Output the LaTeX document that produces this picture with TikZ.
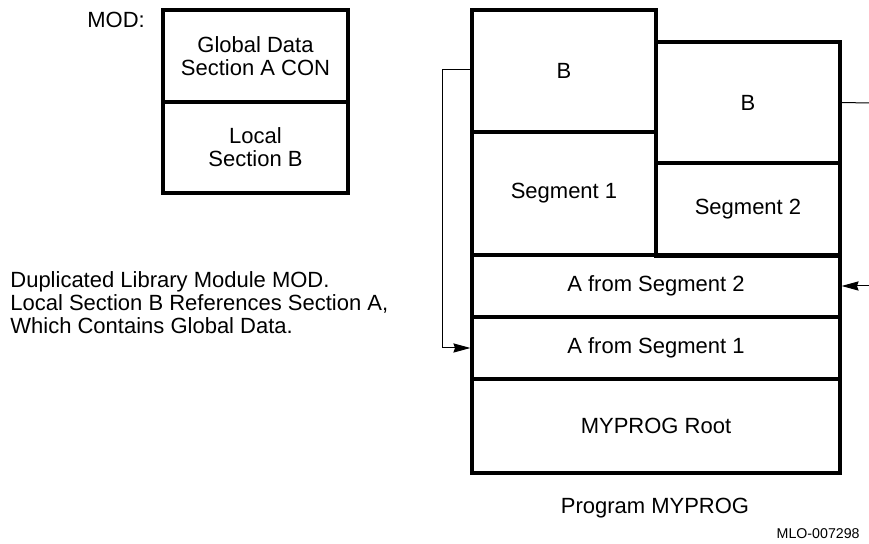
\documentclass[tikz,border=0pt]{standalone}
\usepackage{fontspec}
\setmainfont{Liberation Sans}
\usetikzlibrary{arrows.meta}
\tikzset{
  blok/.style={draw, line width=1.6pt, inner sep=0pt, align=center,
    minimum width=#1*0.5pt},
  lien/.style={line width=0.5pt, -{Stealth[length=8.5pt,width=4.6pt,inset=0.8pt]}},
}
\begin{document}
\begin{tikzpicture}[x=0.5pt, y=-0.5pt, font=\fontsize{11}{11.5}\selectfont]
					\useasboundingbox (0,0) rectangle (869,544);
					% module MOD
					\node[anchor=west, inner sep=0pt] (mod) at (87,20) {MOD:};
					\node[blok=185, minimum height=46pt] (gd) at (255.5,56) {Global Data\\Section A CON};
					\node[blok=185, minimum height=45.5pt] (lb) at (255.5,147.5) {Local\\Section B};
					\node[anchor=west, align=left, inner sep=0pt] (txt) at (10,303) {Duplicated Library Module MOD.\\Local Section B References Section A,\\Which Contains Global Data.};
					% programme MYPROG
					\node[blok=184, minimum height=61pt] (b1) at (564,71) {B};
					\node[blok=184, minimum height=60.5pt] (b2) at (748,102.5) {B};
					\node[blok=184, minimum height=61.5pt] (s1) at (564,193.5) {Segment 1};
					\node[blok=184, minimum height=46.5pt] (s2) at (748,209.5) {Segment 2};
					\node[blok=368, minimum height=31pt] (a2) at (656,286) {A from Segment 2};
					\node[blok=368, minimum height=31pt] (a1) at (656,348) {A from Segment 1};
					\node[blok=368, minimum height=47pt] (root) at (656,426) {MYPROG Root};
					\node (prog) at (655,508) {Program MYPROG};
					\node[anchor=east, inner sep=0pt, font=\fontsize{7.1}{8}\selectfont] (ref) at (860,534) {MLO-007298};
					% liaisons
					\coordinate (gauche) at (442,70);
					\coordinate (droite1) at (869,103);
					\coordinate (droite2) at (869,286);
					\draw[line width=0.5pt] (b1.west |- gauche) -- (gauche);
					\draw[lien] (gauche) |- (a1.west);
					\draw[line width=0.5pt] (b2.east) -- (droite1);
					\draw[lien] (droite2) -- (a2.east);
		\end{tikzpicture}
\end{document}
